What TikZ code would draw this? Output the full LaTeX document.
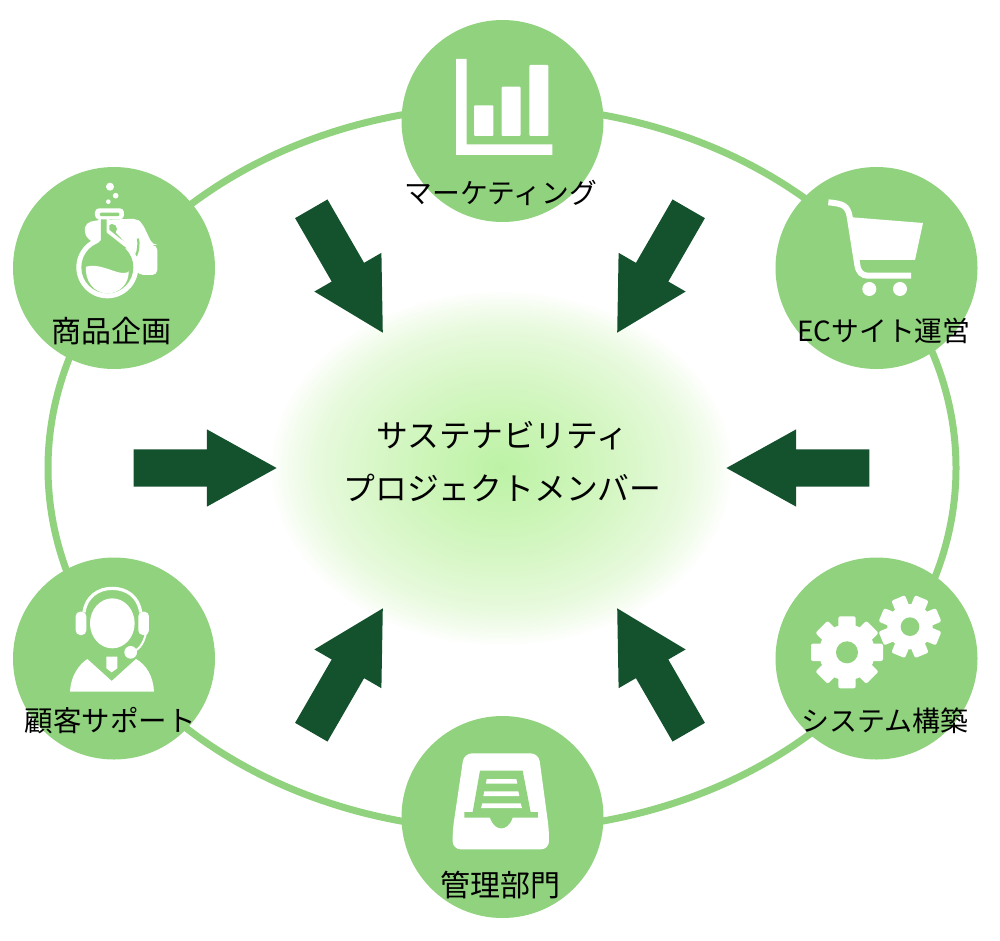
\documentclass[tikz,border=0pt]{standalone}
\usepackage{fontspec}
\setmainfont{Noto Sans CJK JP}
\usetikzlibrary{shapes.arrows}

\definecolor{leafgreen}{HTML}{91D27F}
\definecolor{darkgreen}{HTML}{14512D}
\pgfdeclareradialshading{glowshade}{\pgfpointorigin}{rgb(0bp)=(0.74,0.95,0.65); rgb(8bp)=(0.80,0.96,0.72); rgb(15bp)=(0.86,0.97,0.80); rgb(20bp)=(0.91,0.98,0.87); rgb(23bp)=(0.96,0.99,0.94); rgb(25bp)=(1,1,1); rgb(50bp)=(1,1,1)}

\tikzset{
	groupdisk/.style={circle, fill=leafgreen, minimum size=202pt, inner sep=0pt},
	grouplabel/.style={inner sep=0pt, text=black, font=\fontsize{27.8}{34}\selectfont},
	kanjilabel/.style={grouplabel, font=\fontsize{30}{36}\selectfont},
	bigarrow/.style={single arrow, fill=darkgreen, inner xsep=0pt, inner ysep=18.5pt, minimum height=143pt,
		single arrow head extend=20pt, single arrow tip angle=58, anchor=tip},
	zoomed/.style={x=0.3333pt, y=-0.3333pt},
}

\begin{document}
\begin{tikzpicture}[x=1pt, y=-1pt]

	\useasboundingbox (0,0) rectangle (1000,940);

	\shade[shading=glowshade] (501,468) ellipse (232 and 178);
	\draw[leafgreen, line width=7pt] (502,468) ellipse (454 and 362);

	\node[bigarrow, rotate=-60] (arrowTL) at (383,333) {};
	\node[bigarrow, rotate=-120] (arrowTR) at (617,333) {};
	\node[bigarrow, rotate=0] (arrowL) at (277,468) {};
	\node[bigarrow, rotate=180] (arrowR) at (726,468) {};
	\node[bigarrow, rotate=60] (arrowBL) at (383,608) {};
	\node[bigarrow, rotate=120] (arrowBR) at (617,608) {};

	\node[groupdisk] (marketing) at (502.5,121) {};
	\node[groupdisk] (planning) at (114,268) {};
	\node[groupdisk] (shop) at (876.5,268) {};
	\node[groupdisk] (support) at (114,658.5) {};
	\node[groupdisk] (system) at (876.5,658.5) {};
	\node[groupdisk] (admin) at (502.5,817) {};

	\begin{scope}[shift={(400,20)}, zoomed] %Grafico
		\fill[white] (168,117) -- (200,117) -- (200,373) -- (457,373) -- (457,405) -- (168,405) -- cycle;
		\fill[white, rounded corners=1pt] (222,256) rectangle (280,348);
		\fill[white, rounded corners=1pt] (305,200) rectangle (362,348);
		\fill[white, rounded corners=1pt] (388,135) rectangle (445,348);
	\end{scope}

	\begin{scope}[shift={(70,180)}, zoomed] %Matraz
		\fill[white] (120,20) circle (12);
		\fill[white] (137,47) circle (8.5);
		\fill[white] (115,65) circle (7);
		\fill[white, rounded corners=5pt] (48,128) -- (85,120) -- (200,116) -- (217,130) -- (248,195) -- (262,195)
			-- (262,285) -- (205,285) -- (180,230) -- (90,195) -- (55,180) -- (42,155) -- cycle;
		\draw[leafgreen, line width=2.2pt] (125,150) -- (197,226);
		\fill[leafgreen] (126,147) circle (15);
		\fill[white] (85,110) -- (118,110) -- (118,150) -- (178,198) -- (60,210) -- (85,180) -- cycle;
		\draw[leafgreen, line width=2.2pt] (198,228) arc (23:-10:93);
		\fill[white] (112,262) circle (93);
		\fill[leafgreen] (112,262) circle (78);
		\fill[leafgreen] (93,110) -- (110,110) -- (110,158) -- (170,205) -- (60,215) -- (93,180) -- cycle;
		\fill[white] (48,260) .. controls (85,250) and (120,272) .. (150,278) .. controls (165,280) and (178,278) .. (176,272)
			.. controls (178,310) and (150,340) .. (112,340) .. controls (70,340) and (44,300) .. (48,260) -- cycle;
		\fill[white, rounded corners=4pt] (75,85) rectangle (162,118);
		\fill[leafgreen, rounded corners=1pt] (90,98) rectangle (148,108);
	\end{scope}

	\begin{scope}[shift={(775,165)}, zoomed] %Carrito
		\fill[white] (232,157) -- (444,174) -- (420,285) -- (250,285) -- cycle;
		\draw[white, line width=6pt] (160,112) .. controls (205,116) and (218,122) .. (224,155)
			-- (247,300) .. controls (250,322) and (262,332) .. (278,332) -- (408,332);
		\fill[white] (283,372) circle (21);
		\fill[white] (375,372) circle (21);
	\end{scope}

	\begin{scope}[shift={(10,555)}, zoomed] %Operador
		\fill[white] (307,205) ellipse (67 and 75);
		\draw[white, line width=3.2pt] (222,172) .. controls (228,125) and (265,100) .. (307,100) .. controls (350,100) and (386,125) .. (392,172);
		\fill[white, rounded corners=4.5pt] (197,170) rectangle (229,240);
		\fill[white, rounded corners=4.5pt] (385,170) rectangle (417,240);
		\draw[white, line width=2pt] (408,235) .. controls (400,265) and (390,285) .. (362,292);
		\fill[white] (362,292) circle (19);
		\fill[white] (180,410) .. controls (182,365) and (205,330) .. (232,312) -- (305,378) -- (378,312) .. controls (410,330) and (430,365) .. (432,410) -- cycle;
		\fill[white] (289,305) -- (322,305) -- (322,340) -- (305,352) -- (289,340) -- cycle;
	\end{scope}

	\begin{scope}[shift={(775,555)}, zoomed] %Engranajes
		\fill[white] (216,292) circle (84);
		\foreach \ang in {0,45,...,315}
			\fill[white, rounded corners=2pt, rotate around={\ang:(216,292)}] (190,292) -- (190,184) -- (242,184) -- (242,292) -- cycle;
		\fill[leafgreen] (216,292) circle (33);
		\fill[white] (405,215) circle (68);
		\foreach \ang in {22.5,67.5,...,360}
			\fill[white, rounded corners=2pt, rotate around={\ang:(405,215)}] (383,215) -- (383,122) -- (427,122) -- (427,215) -- cycle;
		\fill[leafgreen] (405,215) circle (28);
	\end{scope}

	\begin{scope}[shift={(400,715)}, zoomed] %Bandeja
		\fill[white, rounded corners=8pt] (192,115) -- (416,115) -- (447,345) -- (447,403) -- (158,403) -- (158,345) -- cycle;
		\fill[leafgreen] (240,167) -- (368,167) -- (392,291) -- (414,291) -- (414,308) -- (338,308)
			.. controls (330,332) and (315,340) .. (304,340) .. controls (292,340) and (278,332) .. (270,308)
			-- (193,308) -- (193,291) -- (218,291) -- cycle;
		\fill[white] (260,192) -- (349,192) -- (352,206) -- (258,206) -- cycle;
		\fill[white] (253,229) -- (355,229) -- (358,243) -- (250,243) -- cycle;
		\fill[white] (247,265) -- (362,265) -- (366,279) -- (243,279) -- cycle;
	\end{scope}

	\node[grouplabel] (marketingLabel) at (501,193) {マーケティング};
	\node[kanjilabel] (planningLabel) at (111,331) {商品企画};
	\node[grouplabel] (shopLabel) at (884,331) {ECサイト運営};
	\node[grouplabel, font=\fontsize{28.5}{34}\selectfont] (supportLabel) at (110,721) {顧客サポート};
	\node[grouplabel, font=\fontsize{28}{34}\selectfont] (systemLabel) at (885,721) {システム構築};
	\node[kanjilabel] (adminLabel) at (500,885) {管理部門};

	\node[inner sep=0pt, align=center, font=\fontsize{31.8}{53}\selectfont] (members) at (502.5,462) {サステナビリティ\\プロジェクトメンバー};

\end{tikzpicture}
\end{document}
